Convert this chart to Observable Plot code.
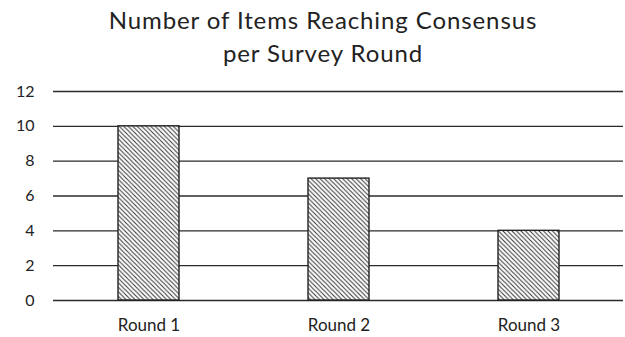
<!DOCTYPE html>
<html>
<head>
<meta charset="utf-8">
<script src="https://cdn.jsdelivr.net/npm/d3@7"></script>
<script src="https://cdn.jsdelivr.net/npm/@observablehq/plot@0.6"></script>
<style>
  html, body { margin: 0; padding: 0; background: #fff; }
  #wrap { width: 625px; height: 337px; overflow: hidden; font-family: Lato, "Liberation Sans", sans-serif; }
  #title { height: 70px; width: 646px; text-align: center; font-size: 24px; line-height: 33px; letter-spacing: 0.9px; color: #222; padding-top: 2.5px; box-sizing: border-box; white-space: nowrap; }
  svg { display: block; }
  svg .xlab text { font-size: 17px; }
  svg .ylab text { font-size: 16px; }
</style>
</head>
<body>
<div id="wrap">
  <div id="title">Number of Items Reaching Consensus<br>per Survey Round</div>
  <div id="chart"></div>
</div>
<script>
const rounds = ["Round 1", "Round 2", "Round 3"];
const items = [10, 7, 4];
const yTicks = [0, 2, 4, 6, 8, 10, 12];

const data = rounds.map((r, i) => ({round: r, count: items[i]}));

const chart = Plot.plot({
  width: 625,
  height: 267,
  marginTop: 21,
  marginBottom: 37,
  marginLeft: 53,
  marginRight: 2,
  style: {fontFamily: "Lato, 'Liberation Sans', sans-serif", fontSize: "16px", color: "#222", background: "#fff"},
  x: {domain: rounds, paddingInner: 0.68, paddingOuter: 0.34, label: null},
  y: {domain: [0, 12], label: null},
  marks: [
    Plot.ruleY(yTicks, {stroke: "#2b2b2b", strokeWidth: 1.4}),
    Plot.barY(data, {x: "round", y: "count", fill: "url(#diag-hatch)", stroke: "#222", strokeWidth: 1.4}),
    Plot.axisX({tickSize: 0, tickPadding: 18, className: "xlab"}),
    Plot.axisY(yTicks, {tickSize: 0, tickPadding: 19, tickFormat: d => String(d), className: "ylab"})
  ]
});

// Diagonal hatch fill for the bars
const svg = d3.select(chart);
const pat = svg.insert("defs", ":first-child")
  .append("pattern")
  .attr("id", "diag-hatch")
  .attr("patternUnits", "userSpaceOnUse")
  .attr("width", 4.5)
  .attr("height", 4.5);
pat.append("rect").attr("width", 4.5).attr("height", 4.5).attr("fill", "#fff");
pat.append("path")
  .attr("d", "M-1,-1 L5.5,5.5 M-1,3.5 L1,5.5 M3.5,-1 L5.5,1")
  .attr("stroke", "#333")
  .attr("stroke-width", 1);

document.getElementById("chart").appendChild(chart);
</script>
</body>
</html>
